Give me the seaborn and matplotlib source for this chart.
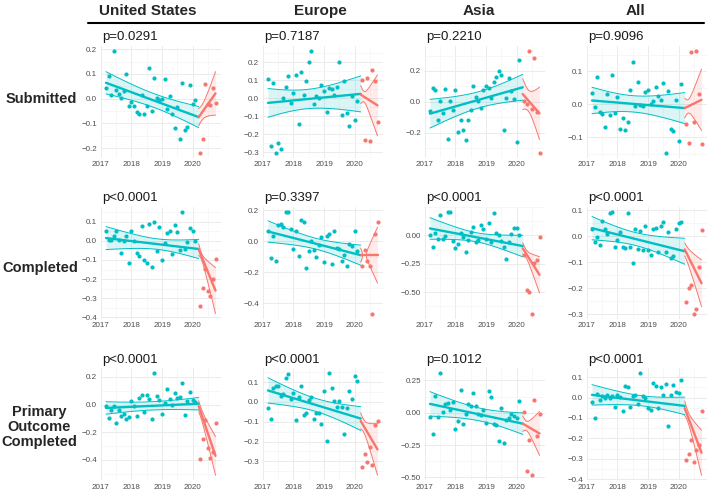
## Interrupted time series of trial activity, pre vs post March 2020
import numpy as np
import matplotlib
matplotlib.use('Agg')
import matplotlib.pyplot as plt
from matplotlib.ticker import AutoMinorLocator, FuncFormatter
import seaborn as sns

TEAL = '#00BFC4'
SALMON = '#F8766D'

regions = ['United States', 'Europe', 'Asia', 'All']
outcomes = ['Submitted', 'Completed', 'Primary\nOutcome\nCompleted']

# monthly time axis in decimal years: Mar 2017 - Feb 2020 (pre), Apr - Oct 2020 (post)
pre_months = 2017 + np.arange(2, 38) / 12
post_months = 2017 + np.arange(39, 46) / 12
break_year = 2020.2

p_values = [['p=0.0291', 'p=0.7187', 'p=0.2210', 'p=0.9096'],
            ['p<0.0001', 'p=0.3397', 'p<0.0001', 'p<0.0001'],
            ['p<0.0001', 'p<0.0001', 'p=0.1012', 'p<0.0001']]

# ---- Submitted ----
us_sub_pre = [0.043, 0.093, 0.015, 0.193, 0.035, 0.019, 0.004, 0.032, 0.100, -0.029, -0.012, -0.029,
              -0.056, -0.063, 0.015, -0.063, -0.030, 0.125, -0.052, 0.085, 0.004, -0.005, 0.000, 0.080,
              -0.041, 0.012, -0.063, -0.117, -0.036, -0.163, 0.063, -0.128, -0.113, 0.057, -0.021, -0.005]
us_sub_post = [-0.219, -0.165, 0.061, -0.021, -0.027, 0.044, -0.019]
eu_sub_pre = [0.108, -0.265, 0.084, -0.303, -0.249, -0.282, 0.000, 0.062, 0.126, -0.026, 0.029, 0.130,
              -0.141, 0.143, 0.020, 0.097, 0.199, 0.263, -0.031, 0.015, 0.000, 0.075, 0.038, -0.075,
              0.057, 0.053, 0.020, 0.062, 0.199, -0.091, 0.097, -0.080, -0.157, 0.015, -0.120, -0.016]
eu_sub_post = [0.102, -0.230, 0.110, -0.240, 0.154, 0.095, -0.130]
asia_sub_pre = [-0.058, 0.088, 0.077, -0.120, 0.006, -0.073, 0.081, -0.240, 0.002, -0.051, 0.077, -0.197,
                -0.116, -0.184, -0.250, -0.120, -0.051, 0.103, 0.028, 0.002, -0.041, 0.077, 0.103, 0.090,
                0.024, 0.130, 0.158, 0.199, 0.173, -0.180, 0.024, 0.154, 0.073, 0.017, -0.259, 0.270]
asia_sub_post = [0.002, -0.015, 0.330, -0.047, 0.287, -0.068, -0.330]
all_sub_pre = [0.033, -0.009, 0.083, -0.025, -0.030, -0.069, 0.030, -0.032, 0.088, -0.027, 0.021, -0.075,
               -0.042, -0.079, -0.054, 0.043, 0.128, -0.005, 0.068, -0.002, -0.007, 0.038, 0.043, 0.001,
               0.008, 0.051, 0.026, 0.013, 0.065, -0.147, 0.041, -0.075, -0.080, 0.013, -0.112, 0.060]
all_sub_post = [-0.059, -0.119, 0.158, -0.055, 0.161, 0.031, -0.122]

# ---- Completed ----
us_comp_pre = [0.053, 0.005, 0.002, 0.026, 0.051, 0.002, -0.063, 0.000, 0.024, -0.115, 0.051, 0.000,
               -0.063, -0.081, 0.079, -0.103, -0.115, 0.086, -0.136, 0.098, -0.055, 0.074, -0.103, -0.012,
               0.039, 0.051, -0.067, 0.082, 0.043, -0.046, 0.151, -0.043, -0.009, 0.065, 0.051, 0.000]
us_comp_post = [-0.338, -0.249, -0.149, -0.261, -0.290, -0.197, -0.094]
eu_comp_pre = [0.064, -0.104, 0.032, -0.126, 0.106, 0.113, 0.091, 0.191, 0.191, 0.081, -0.047, 0.070,
               -0.096, 0.138, 0.128, -0.174, -0.062, 0.000, -0.053, -0.100, -0.026, 0.028, -0.136, 0.032,
               0.049, -0.147, 0.066, -0.043, -0.047, -0.126, -0.089, -0.157, -0.015, -0.032, 0.066, -0.060]
eu_comp_post = [-0.160, -0.053, -0.128, -0.160, -0.466, 0.045, 0.123]
asia_comp_pre = [0.003, -0.099, 0.018, -0.032, 0.184, -0.032, -0.006, 0.208, 0.208, -0.047, -0.114, -0.076,
                 0.018, -0.018, -0.143, -0.041, 0.032, 0.073, -0.056, -0.041, 0.091, 0.058, -0.035, 0.105,
                 -0.056, 0.193, 0.018, 0.003, -0.053, -0.105, -0.211, -0.056, 0.012, 0.061, 0.067, 0.000]
asia_comp_post = [-0.173, -0.480, -0.503, -0.690, -0.240, -0.216, -0.018]
all_comp_pre = [0.029, -0.023, -0.003, -0.032, 0.061, 0.029, 0.010, 0.089, 0.095, -0.042, -0.014, 0.016,
                -0.042, -0.044, 0.092, -0.040, -0.101, 0.028, -0.048, 0.022, -0.051, 0.042, -0.053, -0.073,
                0.028, 0.034, -0.059, 0.041, 0.057, -0.061, 0.019, -0.082, -0.076, 0.029, 0.051, 0.057]
all_comp_post = [-0.251, -0.200, -0.186, -0.297, -0.281, -0.116, 0.025]

# ---- Primary outcome completed ----
us_prim_pre = [-0.012, -0.100, -0.036, -0.012, -0.129, -0.040, -0.083, -0.071, -0.107, -0.090, 0.024, -0.012,
               -0.083, 0.048, 0.067, -0.052, 0.067, 0.043, -0.102, 0.226, 0.060, 0.036, -0.071, 0.012,
               0.114, 0.043, 0.000, 0.083, 0.048, 0.052, 0.155, -0.076, 0.029, 0.095, 0.036, 0.019]
us_prim_post = [-0.393, -0.250, -0.112, -0.310, -0.386, -0.340, -0.131]
eu_prim_pre = [-0.030, -0.088, 0.069, 0.078, 0.078, 0.031, 0.040, 0.119, 0.139, 0.017, 0.045, -0.091,
               0.023, 0.078, -0.068, -0.055, 0.012, 0.023, -0.084, -0.055, -0.055, -0.109, 0.056, -0.198,
               0.144, 0.069, 0.007, -0.026, 0.003, -0.026, -0.162, -0.030, 0.053, 0.017, 0.132, 0.106]
eu_prim_post = [-0.327, -0.261, -0.302, -0.228, -0.316, -0.117, -0.096]
asia_prim_pre = [-0.033, -0.165, 0.132, -0.033, 0.305, 0.008, 0.071, 0.076, 0.018, 0.081, -0.122, -0.064,
                 0.173, -0.089, -0.013, 0.071, 0.051, 0.153, 0.056, -0.008, -0.018, 0.025, -0.079, 0.170,
                 0.122, -0.089, -0.097, -0.216, 0.038, -0.237, -0.059, -0.038, -0.008, -0.025, -0.038, 0.089]
asia_prim_post = [0.008, -0.453, -0.211, -0.483, 0.097, -0.183, -0.008]
all_prim_pre = [-0.023, -0.100, 0.016, -0.011, 0.008, -0.003, 0.013, -0.003, 0.005, -0.044, 0.013, 0.002,
                -0.065, 0.058, 0.050, -0.044, 0.005, 0.013, -0.032, 0.118, 0.005, -0.003, -0.052, -0.060,
                0.070, 0.058, -0.052, 0.053, 0.013, 0.065, -0.141, 0.013, 0.062, 0.029, 0.021, 0.086]
all_prim_post = [-0.306, -0.274, -0.206, -0.314, -0.258, -0.230, -0.065]

# fitted segments (value at segment start, end) and CI half widths (start, middle, end)
submitted_pre_fit = [(0.064, -0.075), (-0.026, 0.024), (-0.077, 0.094), (0.011, -0.012)]
submitted_post_fit = [(-0.075, 0.021), (0.020, -0.040), (0.050, -0.075), (-0.012, 0.013)]
submitted_pre_ci = [(0.045, 0.028, 0.043), (0.080, 0.055, 0.100), (0.093, 0.053, 0.084), (0.040, 0.025, 0.047)]
submitted_post_ci = [(0.035, 0.045, 0.088), (0.050, 0.070, 0.170), (0.100, 0.080, 0.170), (0.030, 0.040, 0.093)]

completed_pre_fit = [(0.014, -0.043), (0.064, -0.089), (0.061, -0.094), (0.032, -0.057)]
completed_post_fit = [(-0.046, -0.260), (-0.089, -0.089), (-0.114, -0.348), (-0.050, -0.180)]
completed_pre_ci = [(0.060, 0.028, 0.050), (0.069, 0.035, 0.065), (0.095, 0.040, 0.095), (0.045, 0.025, 0.050)]
completed_post_ci = [(0.030, 0.050, 0.120), (0.045, 0.060, 0.180), (0.050, 0.070, 0.160), (0.025, 0.050, 0.090)]

primary_pre_fit = [(-0.024, 0.007), (0.058, -0.084), (0.069, -0.084), (0.013, -0.041)]
primary_post_fit = [(-0.012, -0.370), (-0.096, -0.240), (-0.084, -0.160), (-0.052, -0.270)]
primary_pre_ci = [(0.045, 0.030, 0.045), (0.064, 0.033, 0.060), (0.095, 0.050, 0.083), (0.050, 0.025, 0.043)]
primary_post_ci = [(0.040, 0.070, 0.140), (0.040, 0.060, 0.130), (0.060, 0.070, 0.170), (0.035, 0.050, 0.110)]

y_ticks = [[[-0.2, -0.1, 0.0, 0.1, 0.2], [-0.3, -0.2, -0.1, 0.0, 0.1, 0.2], [-0.2, 0.0, 0.2], [-0.1, 0.0, 0.1]],
           [[-0.4, -0.3, -0.2, -0.1, 0.0, 0.1], [-0.4, -0.2, 0.0, 0.2], [-0.5, -0.25, 0.0], [-0.3, -0.2, -0.1, 0.0, 0.1]],
           [[-0.4, -0.2, 0.0, 0.2], [-0.3, -0.2, -0.1, 0.0, 0.1], [-0.5, -0.25, 0.0, 0.25], [-0.4, -0.3, -0.2, -0.1, 0.0, 0.1]]]

points = [[(us_sub_pre, us_sub_post), (eu_sub_pre, eu_sub_post), (asia_sub_pre, asia_sub_post), (all_sub_pre, all_sub_post)],
          [(us_comp_pre, us_comp_post), (eu_comp_pre, eu_comp_post), (asia_comp_pre, asia_comp_post), (all_comp_pre, all_comp_post)],
          [(us_prim_pre, us_prim_post), (eu_prim_pre, eu_prim_post), (asia_prim_pre, asia_prim_post), (all_prim_pre, all_prim_post)]]
fits = [(submitted_pre_fit, submitted_post_fit, submitted_pre_ci, submitted_post_ci),
        (completed_pre_fit, completed_post_fit, completed_pre_ci, completed_post_ci),
        (primary_pre_fit, primary_post_fit, primary_pre_ci, primary_post_ci)]


def fit_segment(ax, x0, x1, fit, hw, color):
    '''fitted line with its confidence band'''
    xs = np.linspace(x0, x1, 80)
    line = np.interp(xs, [x0, x1], fit)
    coef = np.polyfit([x0, (x0 + x1) / 2, x1], np.square(hw), 2)
    half = np.sqrt(np.clip(np.polyval(coef, xs), 0, None))
    ax.fill_between(xs, line - half, line + half, color=color, alpha=0.14, lw=0)
    ax.plot(xs, line + half, color=color, lw=0.7)
    ax.plot(xs, line - half, color=color, lw=0.7)
    sns.lineplot(x=[x0, x1], y=list(fit), color=color, lw=1.7, ax=ax)


def tick_fmt(decimals):
    def f(v, pos):
        s = f'{v:.{decimals}f}'
        if float(s) == 0:
            s = f'{0:.{decimals}f}'
        return s.replace('-', '\u2212')
    return FuncFormatter(f)


sns.set_theme(style='white')
plt.rcParams['font.family'] = ['Liberation Sans', 'DejaVu Sans']

fig = plt.figure(figsize=(7.09, 4.93), dpi=100)
W, H = 709, 493
lefts = [100.5, 262.5, 424.5, 586.5]
bottoms = [157.8, 318.7, 480.3]
pw, ph = 120.5, 112

for r in range(3):
    pre_fit, post_fit, pre_ci, post_ci = fits[r]
    for c in range(4):
        ax = fig.add_axes([lefts[c] / W, 1 - bottoms[r] / H, pw / W, ph / H])
        pre, post = points[r][c]
        fit_segment(ax, pre_months[0], break_year, pre_fit[c], pre_ci[c], TEAL)
        fit_segment(ax, break_year, post_months[-1], post_fit[c], post_ci[c], SALMON)
        sns.scatterplot(x=pre_months, y=pre, color=TEAL, s=9, linewidth=0, ax=ax, zorder=3)
        sns.scatterplot(x=post_months, y=post, color=SALMON, s=9, linewidth=0, ax=ax, zorder=3)

        ax.set_xticks([2017, 2018, 2019, 2020])
        ax.set_xticklabels(['2017', '2018', '2019', '2020'])
        ticks = y_ticks[r][c]
        ax.set_yticks(ticks)
        dec = 2 if any(abs(round(t * 10) - t * 10) > 1e-9 for t in ticks) else 1
        ax.yaxis.set_major_formatter(tick_fmt(dec))
        ax.xaxis.set_minor_locator(AutoMinorLocator(2))
        ax.yaxis.set_minor_locator(AutoMinorLocator(2))
        ax.grid(which='major', color='#EBEBEB', lw=0.7)
        ax.grid(which='minor', color='#F3F3F3', lw=0.45)
        ax.set_axisbelow(True)
        ax.tick_params(which='both', length=0, labelsize=5.8, colors='#4D4D4D', pad=2.5)
        for sp in ax.spines.values():
            sp.set_visible(False)
        ax.set_xlabel('')
        ax.set_ylabel('')
        ax.text(0.01, 1.05, p_values[r][c], transform=ax.transAxes, fontsize=9.5,
                color='#1A1A1A', ha='left', va='baseline')

# column headers and rule
header_x = [148, 320, 479, 636]
for name, hx in zip(regions, header_x):
    fig.text(hx / W, 1 - 15 / H, name, fontsize=11, fontweight='bold', ha='center', va='baseline')
fig.add_artist(plt.Line2D([88 / W, 704 / W], [1 - 22.7 / H, 1 - 22.7 / H], color='black', lw=1.5))

# row labels
fig.text(77 / W, 1 - 99 / H, outcomes[0], fontsize=10.5, fontweight='bold', ha='right', va='center')
fig.text(78 / W, 1 - 268 / H, outcomes[1], fontsize=10.5, fontweight='bold', ha='right', va='center')
fig.text(39 / W, 1 - 427 / H, outcomes[2], fontsize=10.5, fontweight='bold', ha='center', va='center',
         multialignment='center', linespacing=1.1)

fig.savefig('out.png', dpi=100)
